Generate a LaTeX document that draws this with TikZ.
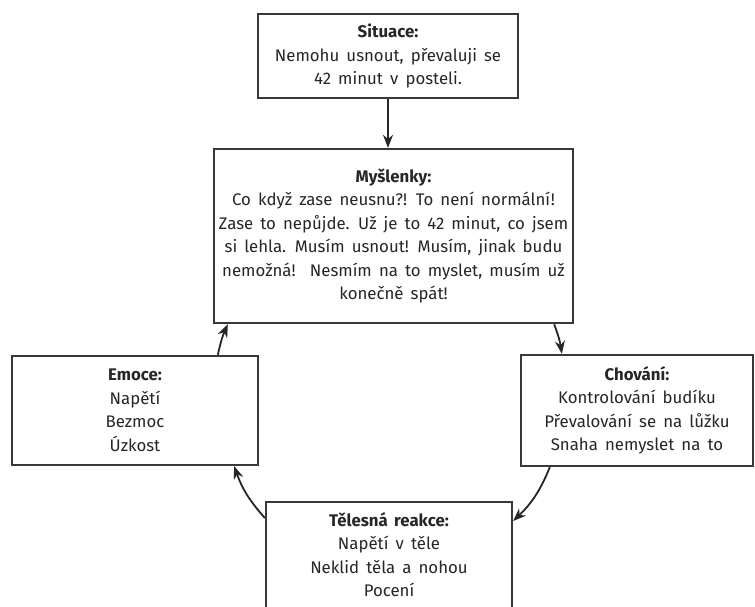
\documentclass[tikz,border=0pt]{standalone}
\usepackage{fontspec}
\setmainfont[WordSpace=1.6]{Fira Sans}
\usetikzlibrary{arrows.meta}
\begin{document}
\begin{tikzpicture}[x=1pt,y=1pt,
  box/.style={draw=black!78, line width=2.3pt, fill=white, inner sep=0pt,
    align=center, text=black!85,
    font=\fontsize{16.8}{23.5}\selectfont},
  arr/.style={draw=black!85, line width=1.8pt,
    -{Stealth[length=13pt,width=10pt]}}]
\useasboundingbox (0,0) rectangle (755,-606);
\clip (0,0) rectangle (755,-606);

% situation
\node[box, minimum width=260pt, minimum height=84pt] (sit) at (388,-56)
  {\textbf{Situace:}\\Nemohu usnout, převaluji se\\42 minut v posteli.};

% thoughts
\node[box, minimum width=359pt, minimum height=174pt] (mys) at (393.5,-236)
  {\textbf{Myšlenky:}\\Co když zase neusnu?! To není normální!\\
   Zase to nepůjde. Už je to 42 minut, co jsem\\
   si lehla. Musím usnout! Musím, jinak budu\\
   nemožná!\ \ Nesmím na to myslet, musím už\\
   konečně spát!};

% emotions
\node[box, minimum width=246pt, minimum height=109pt] (emo) at (135,-410.5)
  {\textbf{Emoce:}\\Napětí\\Bezmoc\\Úzkost};

% behaviour
\node[box, minimum width=232pt, minimum height=111pt] (chov) at (637,-410.5)
  {\textbf{Chování:}\\Kontrolování budíku\\Převalování se na lůžku\\Snaha nemyslet na to};

% bodily reaction (runs off the bottom edge)
\node[box, minimum width=246pt, anchor=north, inner ysep=10pt] (tel) at (389,-501)
  {\textbf{Tělesná reakce:}\\Napětí v těle\\Neklid těla a nohou\\Pocení\\[30pt]\strut};

% cycle
\draw[arr] (sit.south) -- (sit.south |- mys.north);
\draw[arr] ([xshift=207pt]emo.north west) to[bend left=6] ([xshift=15pt]mys.south west);
\draw[arr] ([xshift=-20pt]mys.south east) to[bend left=6] ([xshift=42pt]chov.north west);
\draw[arr] ([xshift=30pt]chov.south west) to[bend left=12] ([yshift=-20pt]tel.north east);
\draw[arr] ([yshift=-17pt]tel.north west) to[bend left=11] ([xshift=-25pt]emo.south east);
\end{tikzpicture}
\end{document}
